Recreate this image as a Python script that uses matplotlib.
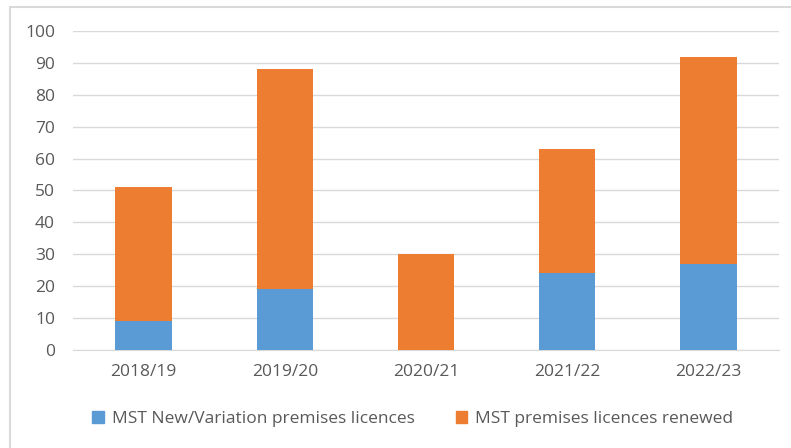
import matplotlib.pyplot as plt
from matplotlib.patches import Rectangle, Patch

years = ['2018/19', '2019/20', '2020/21', '2021/22', '2022/23']
new_variation = [9, 19, 0, 24, 27]
renewed = [42, 69, 30, 39, 65]
labels = ['MST New/Variation premises licences', 'MST premises licences renewed']
colors = ['#5B9BD5', '#ED7D31']

plt.rcParams['font.family'] = ['Open Sans', 'DejaVu Sans']
text_col = '#595959'

fig = plt.figure(figsize=(7.91, 4.48), dpi=100)
# light frame around the chart
fig.patches.append(Rectangle((10 / 791, -0.05), 1.0, 1 - 7.5 / 448 + 0.05,
                             transform=fig.transFigure, fill=False,
                             edgecolor='#d9d9d9', linewidth=1.5))

ax = fig.add_axes([73 / 791, 1 - 350 / 448, (779 - 73) / 791, (350 - 31) / 448])
x = range(len(years))
ax.bar(x, new_variation, width=0.4, color=colors[0], zorder=3)
ax.bar(x, renewed, width=0.4, bottom=new_variation, color=colors[1], zorder=3)

ax.set_xlim(-0.5, len(years) - 0.5)
ax.set_ylim(0, 100)
ax.set_yticks(range(0, 101, 10))
ax.set_xticks(list(x))
ax.set_xticklabels(years)
ax.yaxis.grid(True, color='#d9d9d9', linewidth=1, zorder=0)
for s in ['top', 'right', 'left']:
    ax.spines[s].set_visible(False)
ax.spines['bottom'].set_color('#d9d9d9')
ax.tick_params(axis='both', length=0, labelsize=12.5, colors=text_col)
ax.tick_params(axis='y', pad=13)
ax.tick_params(axis='x', pad=10)

handles = [Patch(color=c) for c in colors]
fig.legend(handles, labels, loc='center', bbox_to_anchor=(0.522, 1 - 419 / 448),
           ncol=2, frameon=False, fontsize=12.5, labelcolor=text_col,
           handlelength=0.65, handleheight=0.65, handletextpad=0.45,
           columnspacing=2.4)

fig.savefig('out.png', dpi=100)
